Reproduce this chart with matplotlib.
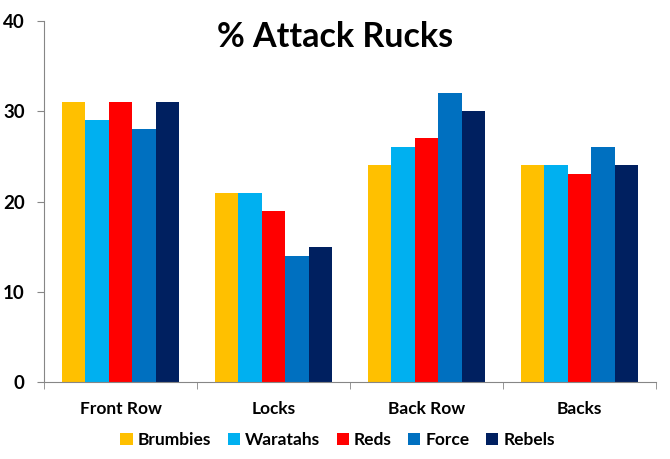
import matplotlib.pyplot as plt
import numpy as np

plt.rcParams['font.family'] = ['Lato', 'DejaVu Sans']
plt.rcParams['font.weight'] = 'bold'

categories = ["Front Row", "Locks", "Back Row", "Backs"]
teams = ["Brumbies", "Waratahs", "Reds", "Force", "Rebels"]
colors = ["#FFC000", "#00B0F0", "#FF0000", "#0070C0", "#002060"]
brumbies = [31, 21, 24, 24]
waratahs = [29, 21, 26, 24]
reds = [31, 19, 27, 23]
force = [28, 14, 32, 26]
rebels = [31, 15, 30, 24]
series = [brumbies, waratahs, reds, force, rebels]

fig = plt.figure(figsize=(6.7, 4.59), dpi=100)
ax = fig.add_axes([0.0657, 0.1678, 0.9133, 0.7862])

x = np.arange(len(categories))
w = 0.153
for i, (vals, c, name) in enumerate(zip(series, colors, teams)):
    ax.bar(x + (i - 2) * w, vals, width=w, color=c, label=name)

ax.set_xlim(-0.5, 3.5)
ax.set_ylim(0, 40)
ax.set_yticks([0, 10, 20, 30, 40])
ax.set_xticks(x)
ax.set_xticklabels(categories, fontsize=12.5, fontweight='bold')
ax.set_xticks(np.arange(-0.5, 4.0, 1.0), minor=True)
ax.tick_params(axis='x', which='major', length=0, pad=14)
ax.tick_params(axis='x', which='minor', length=5, color='#868686', direction='out')
ax.tick_params(axis='y', length=5, color='#868686', labelsize=13.5, pad=9)
for lab in ax.get_yticklabels():
    lab.set_fontweight('bold')

for s in ['top', 'right']:
    ax.spines[s].set_visible(False)
for s in ['left', 'bottom']:
    ax.spines[s].set_color('#868686')

ax.text(0.475, 0.955, "% Attack Rucks", transform=ax.transAxes, ha='center', va='center',
        fontsize=24.5, fontweight='bold')

ax.legend(loc='center', bbox_to_anchor=(0.48, -0.16), ncol=5, frameon=False,
          handlelength=0.7, handleheight=0.7, handletextpad=0.3,
          columnspacing=0.95, prop={'weight': 'bold', 'size': 12.5})

fig.savefig('out.png', dpi=100)
